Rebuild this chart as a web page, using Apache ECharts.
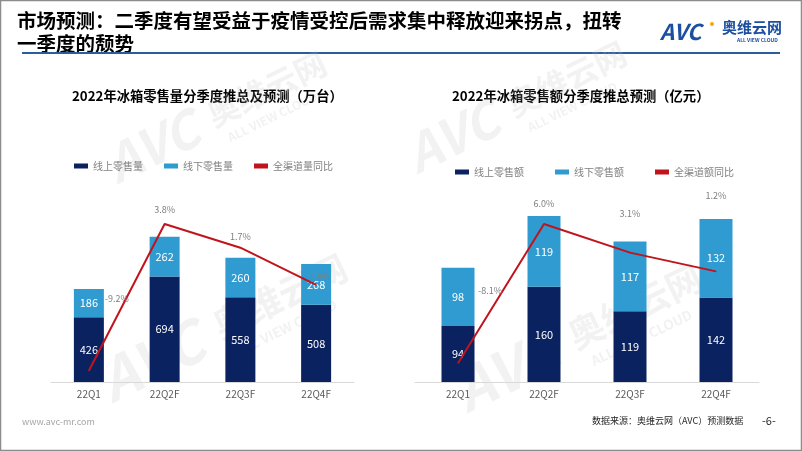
<!DOCTYPE html>
<html>
<head>
<meta charset="utf-8">
<script src="https://cdn.jsdelivr.net/npm/echarts@6/dist/echarts.min.js"></script>
<style>
html,body{margin:0;padding:0;background:#fff;}
#main{width:802px;height:451px;}
</style>
</head>
<body>
<div id="main"></div>
<script>
const categories = ['22Q1', '22Q2F', '22Q3F', '22Q4F'];
const volOnline = [426, 694, 558, 508];
const volOffline = [186, 262, 260, 268];
const volYoY = [-9.2, 3.8, 1.7, -1.6];
const valOnline = [94, 160, 119, 142];
const valOffline = [98, 119, 117, 132];
const valYoY = [-8.1, 6.0, 3.1, 1.2];

const FONT = '"Noto Sans CJK SC", "Noto Sans", sans-serif';
const NAVY = '#0B2261';
const SKY = '#2F9BD1';
const RED = '#C0141C';

function pctData(vals, offsets) {
  return vals.map((v, i) => ({ value: v, label: { offset: offsets[i] } }));
}

function watermark(x, y, s) {
  const c = 'rgba(190,190,190,0.2)';
  return {
    type: 'group', x: x, y: y, rotation: 0.45, scaleX: s, scaleY: s, z: 100, silent: true,
    children: [
      { type: 'text', x: 0, y: 0, style: { text: 'AVC', font: 'italic bold 64px ' + FONT, fill: c, textVerticalAlign: 'bottom' } },
      { type: 'text', x: 140, y: -14, style: { text: '奥维云网', font: 'bold 40px ' + FONT, fill: c, textVerticalAlign: 'bottom' } },
      { type: 'text', x: 150, y: 8, style: { text: 'ALL VIEW CLOUD', font: 'bold 15px ' + FONT, fill: c, textVerticalAlign: 'bottom' } }
    ]
  };
}

const chart = echarts.init(document.getElementById('main'), null, { renderer: 'canvas' });

const axisCommon = {
  type: 'category',
  data: categories,
  axisLine: { lineStyle: { color: '#D9D9D9', width: 1 } },
  axisTick: { show: false },
  axisLabel: { color: '#595959', fontSize: 10, margin: 7, fontFamily: FONT }
};

const barLabel = { show: true, position: 'inside', color: '#fff', fontSize: 11, fontFamily: FONT };
const lineLabel = {
  show: true, position: 'top', color: '#7F7F7F', fontSize: 9, fontFamily: FONT,
  formatter: p => p.value.toFixed(1) + '%'
};

const option = {
  animation: false,
  backgroundColor: '#fff',
  textStyle: { fontFamily: FONT },
  grid: [
    { left: 51, width: 303, top: 154, height: 228 },
    { left: 415, width: 344, top: 144, height: 238 }
  ],
  xAxis: [
    Object.assign({ gridIndex: 0 }, axisCommon),
    Object.assign({ gridIndex: 1 }, axisCommon)
  ],
  yAxis: [
    { gridIndex: 0, type: 'value', min: 0, max: 1500, show: false, splitLine: { show: false } },
    { gridIndex: 0, type: 'value', min: -10.2, max: 10, show: false, splitLine: { show: false } },
    { gridIndex: 1, type: 'value', min: 0, max: 400, show: false, splitLine: { show: false } },
    { gridIndex: 1, type: 'value', min: -10, max: 14.1, show: false, splitLine: { show: false } }
  ],
  legend: [
    {
      left: 69, top: 156, itemWidth: 14, itemHeight: 5, itemGap: 21,
      textStyle: { color: '#7F7F7F', fontSize: 10, fontFamily: FONT },
      data: [
        { name: '线上零售量', icon: 'rect' },
        { name: '线下零售量', icon: 'rect' },
        { name: '全渠道量同比', icon: 'rect' }
      ]
    },
    {
      left: 450, top: 162, itemWidth: 14, itemHeight: 5, itemGap: 31,
      textStyle: { color: '#7F7F7F', fontSize: 10, fontFamily: FONT },
      data: [
        { name: '线上零售额', icon: 'rect' },
        { name: '线下零售额', icon: 'rect' },
        { name: '全渠道额同比', icon: 'rect' }
      ]
    }
  ],
  series: [
    { name: '线上零售量', type: 'bar', xAxisIndex: 0, yAxisIndex: 0, stack: 'v', barWidth: 30,
      data: volOnline, itemStyle: { color: NAVY }, label: barLabel },
    { name: '线下零售量', type: 'bar', xAxisIndex: 0, yAxisIndex: 0, stack: 'v', barWidth: 30,
      data: volOffline, itemStyle: { color: SKY }, label: barLabel },
    { name: '全渠道量同比', type: 'line', xAxisIndex: 0, yAxisIndex: 1, z: 5,
      data: pctData(volYoY, [[28, -62], [0, -4], [0, -1], [2, 2]]),
      symbol: 'circle', symbolSize: 1, itemStyle: { color: RED },
      lineStyle: { color: RED, width: 2 }, label: lineLabel },
    { name: '线上零售额', type: 'bar', xAxisIndex: 1, yAxisIndex: 2, stack: 'a', barWidth: 33,
      data: valOnline, itemStyle: { color: NAVY }, label: barLabel },
    { name: '线下零售额', type: 'bar', xAxisIndex: 1, yAxisIndex: 2, stack: 'a', barWidth: 33,
      data: valOffline, itemStyle: { color: SKY }, label: barLabel },
    { name: '全渠道额同比', type: 'line', xAxisIndex: 1, yAxisIndex: 3, z: 5,
      data: pctData(valYoY, [[32, -63], [0, -10], [0, -29], [0, -66]]),
      symbol: 'circle', symbolSize: 1, itemStyle: { color: RED },
      lineStyle: { color: RED, width: 2 }, label: lineLabel }
  ],
  graphic: [
    { type: 'rect', shape: { x: 0.5, y: 0.5, width: 801, height: 450 }, style: { fill: 'none', stroke: '#8C8C8C', lineWidth: 1.5 }, z: -10, silent: true },
    { type: 'text', x: 17, y: 9, style: { text: '市场预测：二季度有望受益于疫情受控后需求集中释放迎来拐点，扭转\n一季度的颓势', font: 'bold 19.5px ' + FONT, fill: '#000', lineHeight: 23 } },
    { type: 'rect', shape: { x: 22, y: 52, width: 758, height: 2 }, style: { fill: '#2A5C9E' } },
    { type: 'text', x: 660, y: 21, style: { text: 'AVC', font: 'italic bold 22px ' + FONT, fill: '#1D4FA0' } },
    { type: 'circle', shape: { cx: 712, cy: 24, r: 2 }, style: { fill: '#F2A900' } },
    { type: 'text', x: 722, y: 20, style: { text: '奥维云网', font: 'bold 15px ' + FONT, fill: '#1D4FA0' } },
    { type: 'text', x: 737, y: 38, style: { text: 'ALL VIEW CLOUD', font: 'bold 5px ' + FONT, fill: '#1D4FA0' } },
    { type: 'text', x: 72, y: 89, style: { text: '2022年冰箱零售量分季度推总及预测（万台）', font: 'bold 13.3px ' + FONT, fill: '#000' } },
    { type: 'text', x: 452, y: 89, style: { text: '2022年冰箱零售额分季度推总预测（亿元）', font: 'bold 13.3px ' + FONT, fill: '#000' } },
    { type: 'text', x: 22, y: 417, style: { text: 'www.avc-mr.com', font: '9px ' + FONT, fill: '#A6A6A6' } },
    { type: 'text', x: 592, y: 416, style: { text: '数据来源：奥维云网（AVC）预测数据', font: '9px ' + FONT, fill: '#262626' } },
    { type: 'text', x: 762, y: 415, style: { text: '-6-', font: '11px ' + FONT, fill: '#262626' } },
    watermark(120, 190, 0.8),
    watermark(420, 180, 0.8),
    watermark(115, 410, 0.9),
    watermark(470, 420, 0.9)
  ]
};

chart.setOption(option);
</script>
</body>
</html>
